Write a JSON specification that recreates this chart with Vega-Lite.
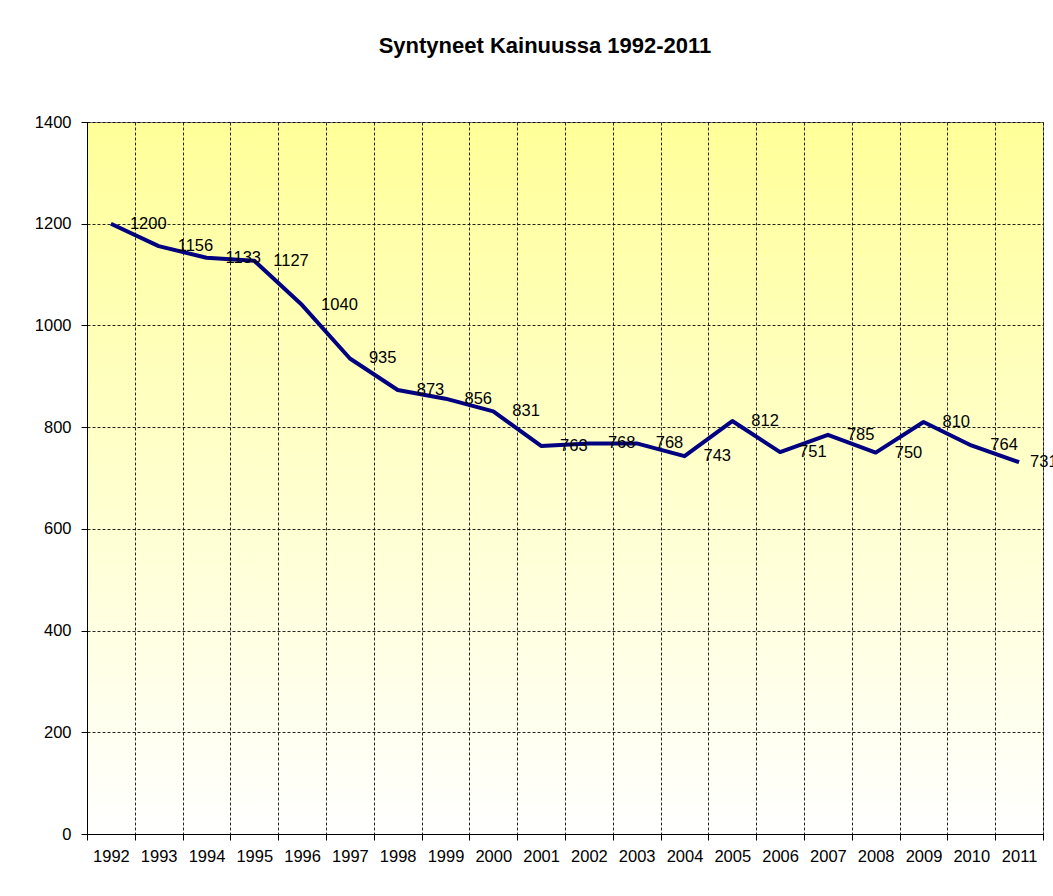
{
  "$schema": "https://vega.github.io/schema/vega-lite/v6.json",
  "width": 956,
  "height": 712,
  "autosize": {"type": "none"},
  "padding": {"left": 87, "top": 122, "right": 10, "bottom": 62},
  "background": "#ffffff",
  "title": {
    "text": "Syntyneet Kainuussa 1992-2011",
    "font": "Liberation Sans",
    "fontSize": 22,
    "fontWeight": "bold",
    "color": "#000000",
    "anchor": "middle",
    "dx": -20,
    "offset": 56
  },
  "config": {
    "view": {
      "stroke": "#808080",
      "strokeWidth": 1,
      "fill": {
        "gradient": "linear",
        "x1": 0, "y1": 0, "x2": 0, "y2": 1,
        "stops": [
          {"offset": 0, "color": "#ffff99"},
          {"offset": 1, "color": "#ffffff"}
        ]
      }
    },
    "axis": {
      "labelFont": "Liberation Sans",
      "labelFontSize": 16.5,
      "labelColor": "#000000",
      "domainColor": "#000000",
      "tickColor": "#000000",
      "tickSize": 6,
      "gridColor": "#000000",
      "gridDash": [3, 2],
      "gridWidth": 1,
      "gridOpacity": 0.85,
      "title": null
    }
  },
  "data": {
    "values": [
      {"year": "1992", "births": 1200},
      {"year": "1993", "births": 1156},
      {"year": "1994", "births": 1133},
      {"year": "1995", "births": 1127},
      {"year": "1996", "births": 1040},
      {"year": "1997", "births": 935},
      {"year": "1998", "births": 873},
      {"year": "1999", "births": 856},
      {"year": "2000", "births": 831},
      {"year": "2001", "births": 763},
      {"year": "2002", "births": 768},
      {"year": "2003", "births": 768},
      {"year": "2004", "births": 743},
      {"year": "2005", "births": 812},
      {"year": "2006", "births": 751},
      {"year": "2007", "births": 785},
      {"year": "2008", "births": 750},
      {"year": "2009", "births": 810},
      {"year": "2010", "births": 764},
      {"year": "2011", "births": 731}
    ]
  },
  "encoding": {
    "x": {
      "field": "year",
      "type": "ordinal",
      "scale": {"paddingInner": 0, "paddingOuter": 0},
      "axis": {
        "labelAngle": 0,
        "tickBand": "extent",
        "grid": true,
        "labelPadding": 8
      }
    },
    "y": {
      "field": "births",
      "type": "quantitative",
      "scale": {"domain": [0, 1400], "nice": false},
      "axis": {
        "values": [0, 200, 400, 600, 800, 1000, 1200, 1400],
        "format": "d",
        "grid": true,
        "labelPadding": 10
      }
    }
  },
  "layer": [
    {
      "mark": {"type": "line", "color": "#000080", "strokeWidth": 4, "strokeJoin": "round"}
    },
    {
      "transform": [{"filter": "datum.year != '2011'"}],
      "mark": {
        "type": "text",
        "align": "left",
        "baseline": "middle",
        "dx": 19,
        "font": "Liberation Sans",
        "fontSize": 16.5,
        "color": "#000000"
      },
      "encoding": {"text": {"field": "births", "type": "quantitative"}}
    },
    {
      "transform": [{"filter": "datum.year == '2011'"}],
      "mark": {
        "type": "text",
        "align": "left",
        "baseline": "middle",
        "dx": 11,
        "font": "Liberation Sans",
        "fontSize": 16.5,
        "color": "#000000"
      },
      "encoding": {"text": {"field": "births", "type": "quantitative"}}
    }
  ]
}
